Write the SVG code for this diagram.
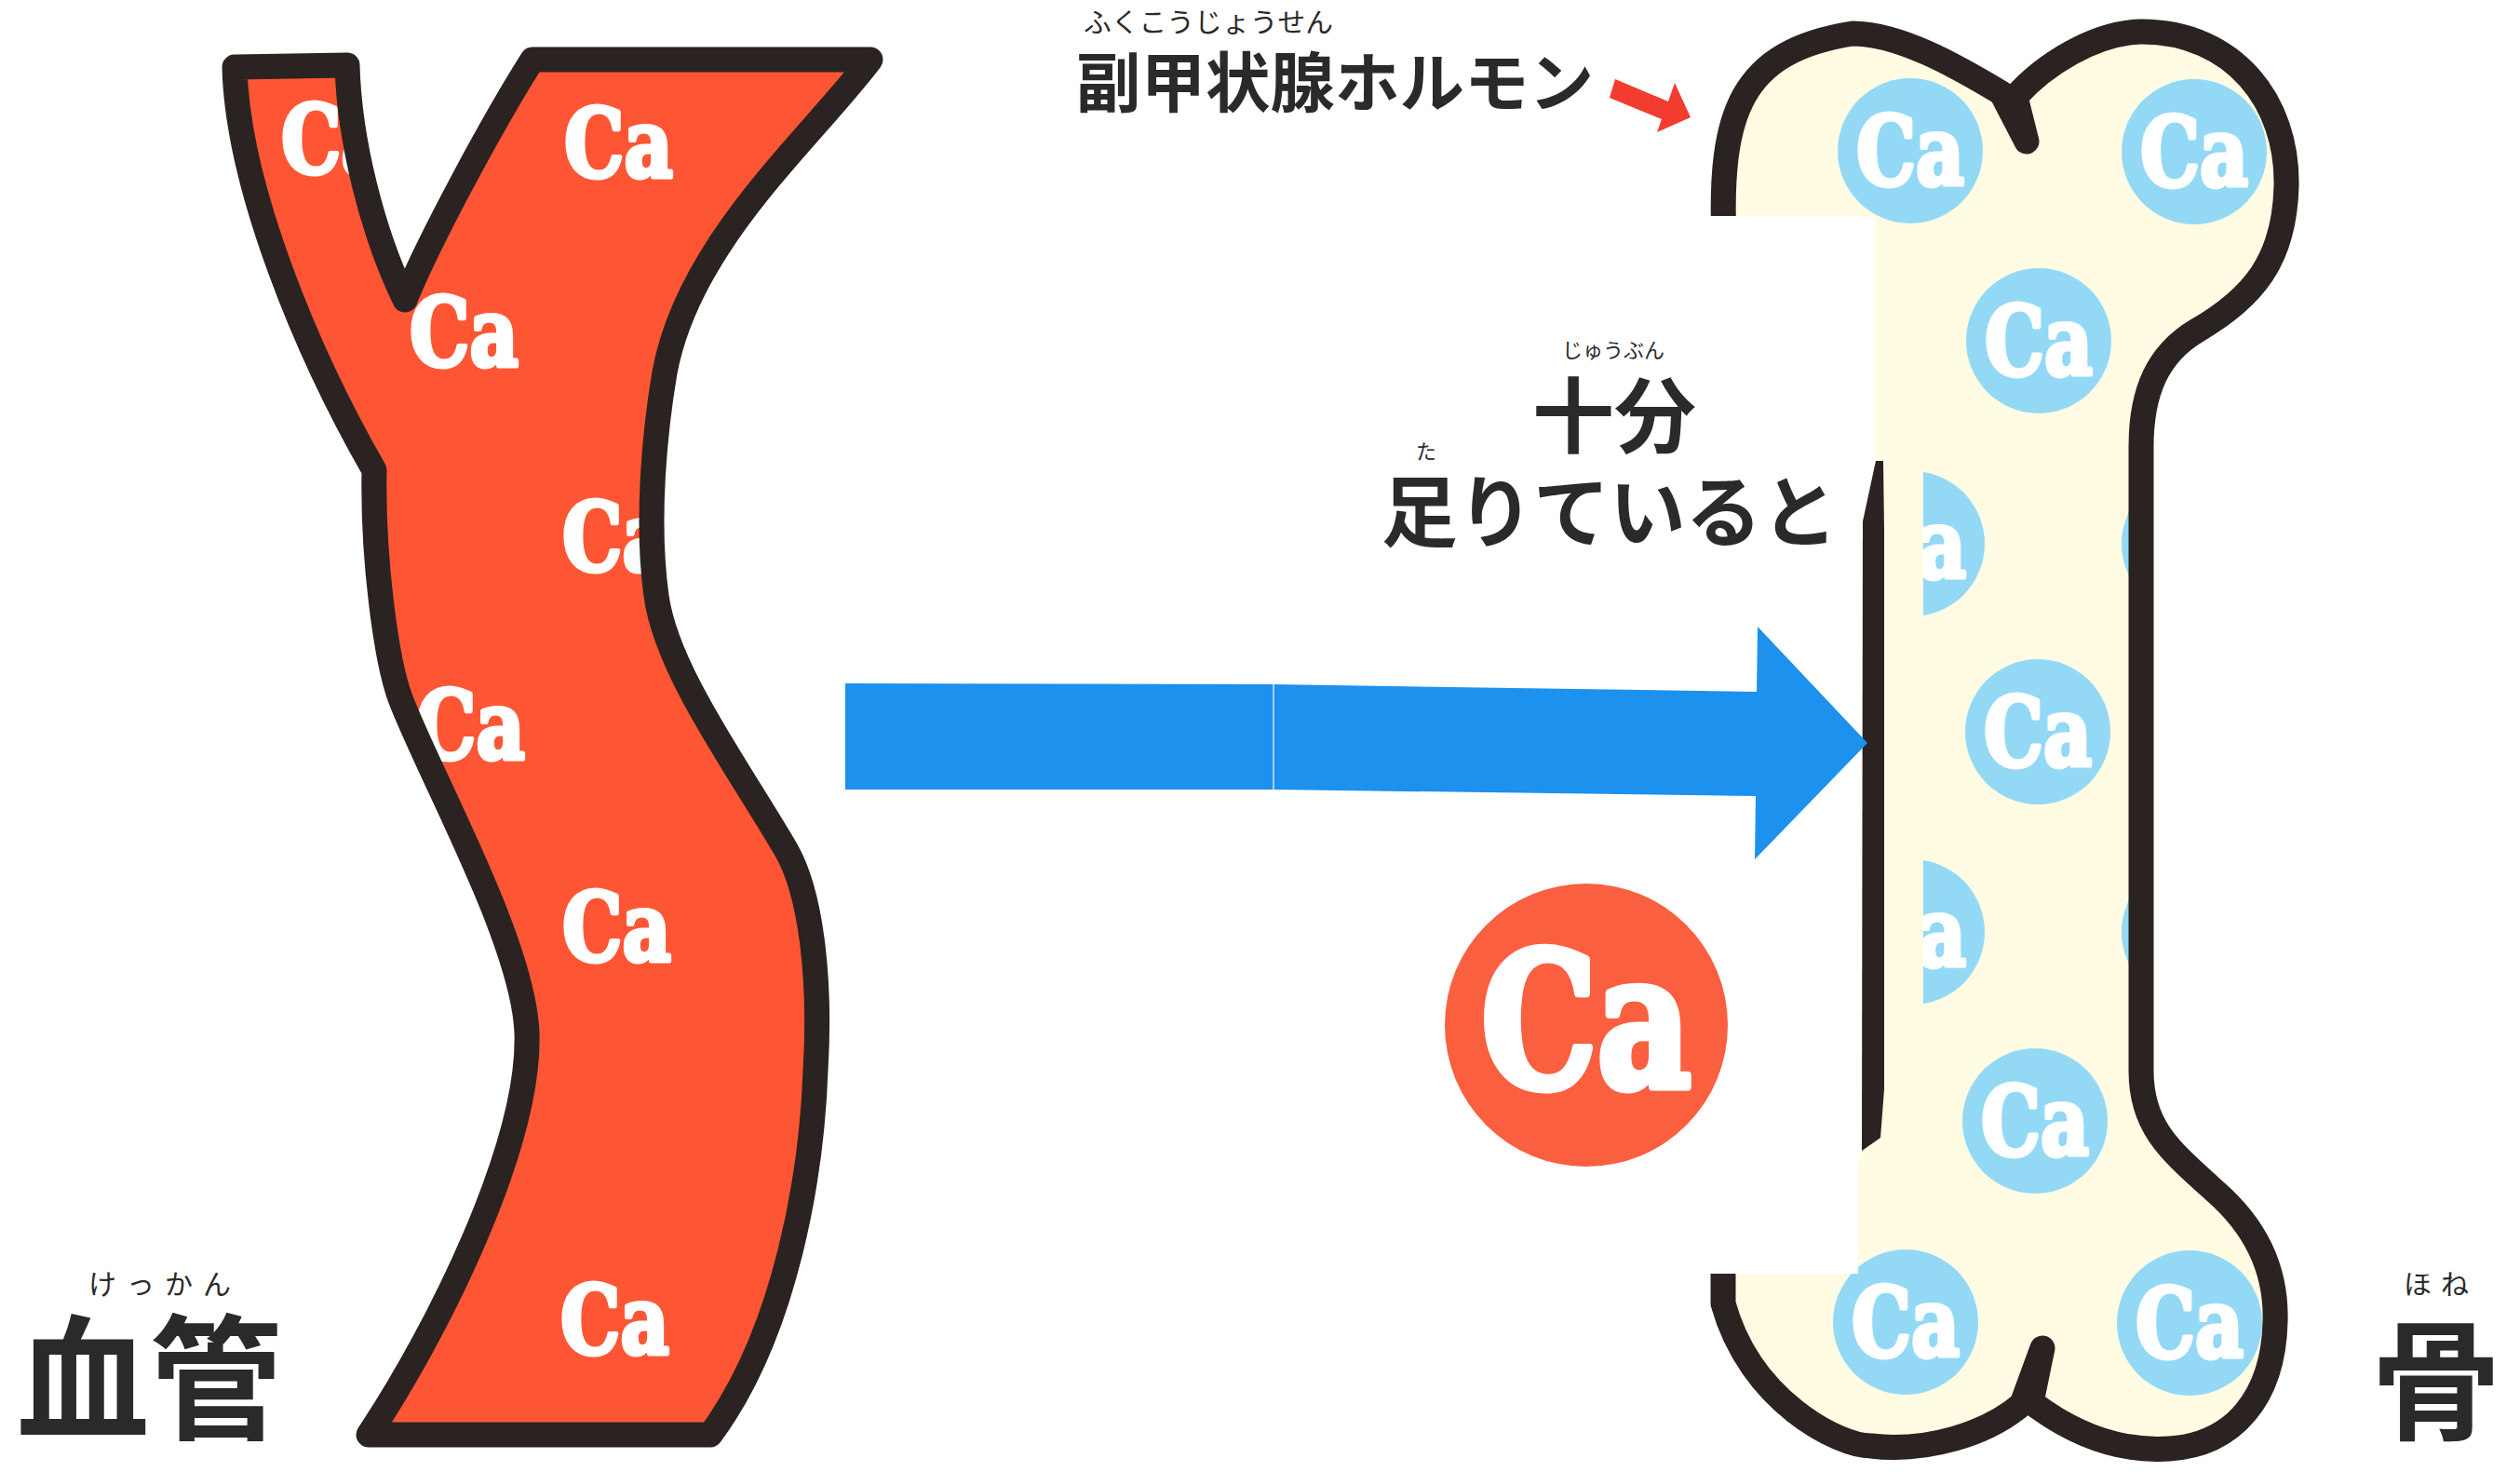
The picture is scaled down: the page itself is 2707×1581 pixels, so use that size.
<svg xmlns="http://www.w3.org/2000/svg" width="2707" height="1581" viewBox="0 0 2707 1581">
  <defs>
    <style>
      .outline { fill: none; stroke: #2a2321; stroke-width: 27; stroke-linejoin: round; stroke-linecap: round; }
      .ca { font-family: "DejaVu Serif", "Liberation Serif", serif; font-weight: 700; fill: #ffffff; stroke: #ffffff; stroke-linejoin: round; }
      .vessel-ca { font-size: 101px; stroke-width: 5; }
      .bone-ca { font-size: 102px; text-anchor: middle; stroke-width: 5; }
      .dot { fill: #93d9f6; }
      .jp { font-family: "Noto Sans CJK JP", "Noto Sans", sans-serif; fill: #2a2a2a; }
      .ruby { font-weight: 400; }
      .main { font-weight: 700; }
    </style>
    <!-- blood vessel outline (stroke centre line) -->
    <path id="vessel-shape" d="M 252 72 L 373 70 C 375 150 400 250 435 322 C 460 260 530 130 572 64 L 935 64 C 870 150 740 260 714 400 C 703 465 694 560 705 640 C 716 720 790 820 844 912 C 871 958 882 1050 876 1150 C 872 1260 845 1430 763 1541 L 396 1541 C 470 1430 570 1230 566 1109 C 562 1010 460 830 430 750 C 415 710 400 600 402 505 C 330 380 255 200 252 72 Z"/>
    <!-- bone outline (stroke centre line); the two notches are drawn as out-and-back spikes,
         the left closing edge sits under the white panel -->
    <path id="bone-shape" d="M 1852 260 C 1846 120 1870 55 1990 36 C 2040 36 2100 70 2150 100 L 2177 152 L 2165 104 C 2195 70 2250 35 2300 34 C 2400 34 2458 110 2456 200 C 2454 280 2420 320 2360 355 C 2318 380 2300 420 2300 480 L 2300 1150 C 2300 1210 2330 1235 2380 1280 C 2420 1315 2446 1360 2444 1420 C 2442 1500 2400 1552 2330 1556 C 2270 1560 2220 1535 2182 1506 L 2194 1448 L 2172 1508 C 2135 1540 2070 1560 2010 1553 C 1975 1553 1880 1505 1851 1400 L 1851 1340 Z"/>
    <clipPath id="vessel-clip"><use href="#vessel-shape"/></clipPath>
    <clipPath id="bone-clip"><use href="#bone-shape"/></clipPath>
    <clipPath id="shaft-clip"><rect x="2066" y="0" width="500" height="1581"/></clipPath>
  </defs>

  <rect width="2707" height="1581" fill="#ffffff"/>

  <!-- blood vessel -->
  <g id="vessel">
    <use href="#vessel-shape" fill="#fe5634"/>
    <g clip-path="url(#vessel-clip)">
      <text class="ca vessel-ca" x="302" y="186" textLength="117" lengthAdjust="spacingAndGlyphs">Ca</text>
      <text class="ca vessel-ca" x="606" y="190" textLength="117" lengthAdjust="spacingAndGlyphs">Ca</text>
      <text class="ca vessel-ca" x="440" y="393" textLength="117" lengthAdjust="spacingAndGlyphs">Ca</text>
      <text class="ca vessel-ca" x="604" y="613" textLength="117" lengthAdjust="spacingAndGlyphs">Ca</text>
      <text class="ca vessel-ca" x="447" y="815" textLength="117" lengthAdjust="spacingAndGlyphs">Ca</text>
      <text class="ca vessel-ca" x="604" y="1032" textLength="117" lengthAdjust="spacingAndGlyphs">Ca</text>
      <text class="ca vessel-ca" x="602" y="1454" textLength="117" lengthAdjust="spacingAndGlyphs">Ca</text>
    </g>
    <use href="#vessel-shape" class="outline"/>
  </g>

  <!-- bone -->
  <g id="bone">
    <use href="#bone-shape" fill="#fffce3"/>
    <g clip-path="url(#bone-clip)">
      <g>
        <circle class="dot" cx="2052" cy="162" r="78"/>
        <text class="ca bone-ca" x="2052" y="199" textLength="116" lengthAdjust="spacingAndGlyphs">Ca</text>
        <circle class="dot" cx="2357" cy="163" r="78"/>
        <text class="ca bone-ca" x="2357" y="200" textLength="116" lengthAdjust="spacingAndGlyphs">Ca</text>
        <circle class="dot" cx="2190" cy="366" r="78"/>
        <text class="ca bone-ca" x="2190" y="403" textLength="116" lengthAdjust="spacingAndGlyphs">Ca</text>
        <circle class="dot" cx="2357" cy="584" r="78"/>
        <circle class="dot" cx="2189" cy="786" r="78"/>
        <text class="ca bone-ca" x="2189" y="823" textLength="116" lengthAdjust="spacingAndGlyphs">Ca</text>
        <circle class="dot" cx="2357" cy="1001" r="78"/>
        <circle class="dot" cx="2186" cy="1204" r="78"/>
        <text class="ca bone-ca" x="2186" y="1241" textLength="116" lengthAdjust="spacingAndGlyphs">Ca</text>
        <circle class="dot" cx="2047" cy="1420" r="78"/>
        <text class="ca bone-ca" x="2047" y="1457" textLength="116" lengthAdjust="spacingAndGlyphs">Ca</text>
        <circle class="dot" cx="2352" cy="1421" r="78"/>
        <text class="ca bone-ca" x="2352" y="1458" textLength="116" lengthAdjust="spacingAndGlyphs">Ca</text>
      </g>
      <g clip-path="url(#shaft-clip)">
        <circle class="dot" cx="2054" cy="584" r="78"/>
        <text class="ca bone-ca" x="2054" y="621" textLength="116" lengthAdjust="spacingAndGlyphs">Ca</text>
        <circle class="dot" cx="2054" cy="1001" r="78"/>
        <text class="ca bone-ca" x="2054" y="1038" textLength="116" lengthAdjust="spacingAndGlyphs">Ca</text>
      </g>
    </g>
    <use href="#bone-shape" class="outline"/>
    <!-- white panel laid over the left side of the bone -->
    <polygon fill="#ffffff" points="1800,232 2014,232 2014,495 2001,560 2000,1236 1996,1246 1996,1368 1800,1368"/>
    <!-- visible part of the shaft's left edge -->
    <polygon fill="#2a2321" points="2015,495 2023,495 2024,570 2024,1170 2020,1222 2000,1236 2001,560"/>
  </g>

  <!-- calcium ion -->
  <g id="calcium">
    <circle cx="1704" cy="1101" r="152" fill="#fa5f40"/>
    <text class="ca" x="1704" y="1167" font-size="200" stroke-width="9" text-anchor="middle" textLength="226" lengthAdjust="spacingAndGlyphs">Ca</text>
  </g>

  <!-- parathyroid hormone label -->
  <g id="hormone-label">
    <text class="jp ruby" x="1164" y="35" font-size="29" textLength="268" lengthAdjust="spacingAndGlyphs">ふくこうじょうせん</text>
    <text class="jp main" x="1156" y="115" font-size="70" textLength="556" lengthAdjust="spacingAndGlyphs">副甲状腺ホルモン</text>
  </g>

  <!-- condition label -->
  <g id="condition-label">
    <text class="jp ruby" x="1733" y="384" font-size="22" text-anchor="middle">じゅうぶん</text>
    <text class="jp main" x="1734" y="479" font-size="88" text-anchor="middle">十分</text>
    <text class="jp ruby" x="1532" y="493" font-size="22" text-anchor="middle">た</text>
    <text class="jp main" x="1484" y="581" font-size="84" textLength="490" lengthAdjust="spacingAndGlyphs">足りていると</text>
  </g>

  <!-- corner captions -->
  <g id="label-vessel">
    <text class="jp ruby" x="95" y="1390" font-size="30" textLength="153" lengthAdjust="spacing">けっかん</text>
    <text class="jp main" x="18" y="1535" font-size="145" textLength="285" lengthAdjust="spacingAndGlyphs">血管</text>
  </g>
  <g id="label-bone">
    <text class="jp ruby" x="2582" y="1390" font-size="30" textLength="70" lengthAdjust="spacing">ほね</text>
    <text class="jp main" x="2617" y="1535" font-size="140" text-anchor="middle">骨</text>
  </g>

  <!-- connectors -->
  <g id="connectors">
    <polygon fill="#1c91ee" points="908,734 1368,735 1887,743 1888,673 2006,798 1885,923 1886,855 1368,848 908,848"/>
    <line x1="1368" y1="735" x2="1368" y2="848" stroke="#cfe5fb" stroke-width="1.5"/>
    <polygon fill="#f23c30" points="1735,85 1792,109 1799,89 1816,126 1780,142 1785,128 1729,105"/>
  </g>
</svg>
